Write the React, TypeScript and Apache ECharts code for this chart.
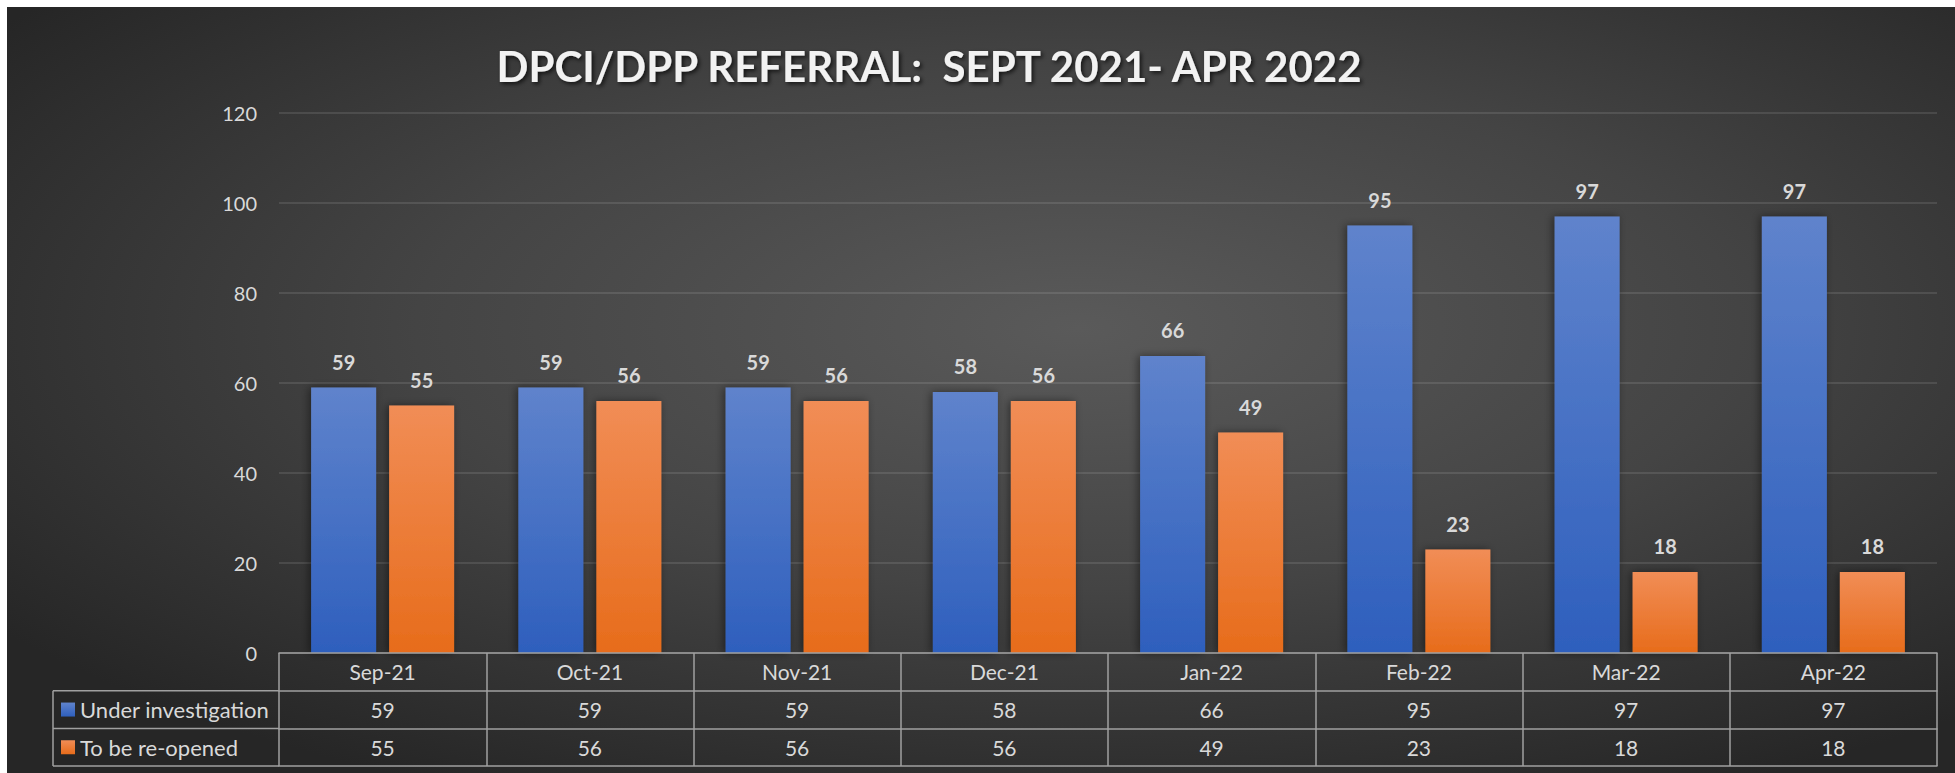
import React, { useEffect, useRef } from "react";
import * as echarts from "echarts";

const categories = ["Sep-21", "Oct-21", "Nov-21", "Dec-21", "Jan-22", "Feb-22", "Mar-22", "Apr-22"];
const underInvestigation = [59, 59, 59, 58, 66, 95, 97, 97];
const toBeReopened = [55, 56, 56, 56, 49, 23, 18, 18];
const seriesNames = ["Under investigation", "To be re-opened"];
const yMin = 0;
const yMax = 120;
const yInterval = 20;
const titleText = "DPCI/DPP REFERRAL:  SEPT 2021- APR 2022";

const W = 1955;
const H = 773;
const FONT = "Lato, 'Open Sans', sans-serif";
const TEXT = "#d9d9d9";
const LINE = "#a0a0a0";
const gridLeft = 279;
const gridRight = 18;
const gridTop = 113;
const axisY = 653;
const rowH = 37.7;

export default function App() {
  const ref = useRef<HTMLDivElement>(null);
  useEffect(() => {
    if (!ref.current) return;
    const chart = echarts.init(ref.current, null, { renderer: "svg", width: W, height: H });
    const blueGrad = new echarts.graphic.LinearGradient(0, 0, 0, 1, [
      { offset: 0, color: "#5f83cc" },
      { offset: 1, color: "#2e5fbd" },
    ]);
    const orangeGrad = new echarts.graphic.LinearGradient(0, 0, 0, 1, [
      { offset: 0, color: "#f18d56" },
      { offset: 1, color: "#e76c1b" },
    ]);
    const bgGrad = new echarts.graphic.RadialGradient(0.55, 0.42, 0.68, [
      { offset: 0, color: "#5a5a5a" },
      { offset: 0.5, color: "#444444" },
      { offset: 1, color: "#262626" },
    ]);
    const rowAxis = (i: number, values: (string | number)[] | null, showLine = true) => ({
      type: "category",
      gridIndex: 0,
      position: "bottom",
      offset: i * rowH,
      data: categories,
      axisLine: { show: showLine, lineStyle: { color: LINE, width: 1.5 } },
      axisTick: { show: false },
      axisLabel: {
        show: values !== null,
        interval: 0,
        margin: rowH / 2,
        verticalAlign: "middle",
        color: TEXT,
        fontFamily: FONT,
        fontSize: 21,
        formatter: (v: string, idx: number) => (values ? String(values[idx]) : v),
      },
      splitLine: { show: false },
      z: 3,
    });
    const labelStyle = {
      show: true,
      position: "top",
      distance: 16,
      color: TEXT,
      fontFamily: FONT,
      fontWeight: "bold",
      fontSize: 20,
    };
    const option: any = {
      animation: false,
      backgroundColor: "#ffffff",
      title: {
        text: titleText,
        left: 924,
        top: 40,
        textAlign: "center",
        textStyle: {
          color: "#f2f2f2",
          fontFamily: FONT,
          fontWeight: "bold",
          fontSize: 42,
          textShadowColor: "rgba(0,0,0,0.7)",
          textShadowBlur: 4,
          textShadowOffsetX: 2,
          textShadowOffsetY: 2,
        },
      },
      legend: {
        orient: "vertical",
        left: 56,
        top: axisY + rowH + rowH / 2 - 16,
        itemWidth: 14,
        itemHeight: 14,
        itemGap: rowH - 22,
        icon: "rect",
        selectedMode: false,
        data: seriesNames,
        textStyle: { color: TEXT, fontFamily: FONT, fontSize: 22, lineHeight: 22 },
      },
      grid: { left: gridLeft, right: gridRight, top: gridTop, bottom: H - axisY, containLabel: false },
      graphic: [
        {
          type: "rect",
          z: -100,
          silent: true,
          shape: { x: 7, y: 7, width: W - 7, height: H - 7 },
          style: { fill: bgGrad },
        },
        {
          type: "group",
          silent: true,
          z: 5,
          children: [
            { type: "line", shape: { x1: 53, y1: axisY + rowH, x2: gridLeft, y2: axisY + rowH }, style: { stroke: LINE, lineWidth: 1.5 } },
            { type: "line", shape: { x1: 53, y1: axisY + 2 * rowH, x2: gridLeft, y2: axisY + 2 * rowH }, style: { stroke: LINE, lineWidth: 1.5 } },
            { type: "line", shape: { x1: 53, y1: axisY + 3 * rowH, x2: gridLeft, y2: axisY + 3 * rowH }, style: { stroke: LINE, lineWidth: 1.5 } },
            { type: "line", shape: { x1: 53, y1: axisY + rowH, x2: 53, y2: axisY + 3 * rowH }, style: { stroke: LINE, lineWidth: 1.5 } },
          ],
        },
      ],
      xAxis: [
        {
          type: "category",
          gridIndex: 0,
          position: "bottom",
          data: categories,
          axisLine: { show: true, lineStyle: { color: LINE, width: 1.5 } },
          axisTick: { show: true, interval: 0, length: 3 * rowH, inside: false, lineStyle: { color: LINE, width: 1.5 } },
          axisLabel: {
            interval: 0,
            margin: rowH / 2,
            verticalAlign: "middle",
            color: TEXT,
            fontFamily: FONT,
            fontSize: 21,
          },
          z: 3,
        },
        rowAxis(1, underInvestigation),
        rowAxis(2, toBeReopened),
        rowAxis(3, null),
      ],
      yAxis: {
        type: "value",
        min: yMin,
        max: yMax,
        interval: yInterval,
        axisLine: { show: false },
        axisTick: { show: false },
        axisLabel: { color: TEXT, fontFamily: FONT, fontSize: 20, margin: 22 },
        splitLine: { lineStyle: { color: "rgba(255,255,255,0.14)", width: 1.5 } },
      },
      series: [
        {
          name: seriesNames[0],
          type: "bar",
          xAxisIndex: 0,
          data: underInvestigation,
          barWidth: 65,
          barGap: "20%",
          itemStyle: {
            color: blueGrad,
            shadowColor: "rgba(0,0,0,0.45)",
            shadowBlur: 8,
            shadowOffsetX: -2,
          },
          label: labelStyle,
        },
        {
          name: seriesNames[1],
          type: "bar",
          xAxisIndex: 0,
          data: toBeReopened,
          barWidth: 65,
          barGap: "20%",
          itemStyle: {
            color: orangeGrad,
            shadowColor: "rgba(0,0,0,0.45)",
            shadowBlur: 8,
            shadowOffsetX: -2,
          },
          label: labelStyle,
        },
      ],
    };
    chart.setOption(option);
    return () => chart.dispose();
  }, []);
  return <div ref={ref} style={{ position: "fixed", left: 0, top: 0, width: W, height: H }} />;
}
